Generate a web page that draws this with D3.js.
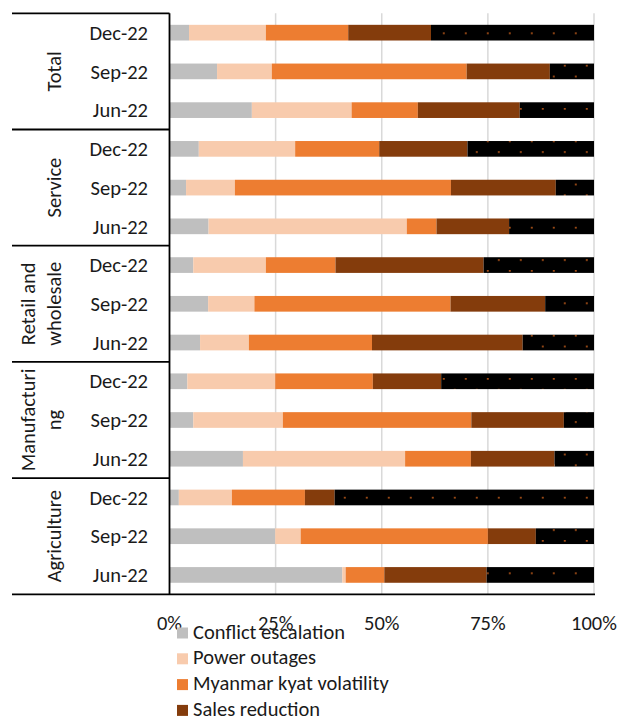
<!DOCTYPE html>
<html>
<head>
<meta charset="utf-8">
<script src="https://cdn.jsdelivr.net/npm/d3@7"></script>
<style>
  html, body { margin: 0; padding: 0; background: #fff; overflow: hidden; }
  svg { display: block; font-family: Carlito, Lato, "Liberation Sans", sans-serif; }
</style>
</head>
<body>
<svg id="chart" width="618" height="721"></svg>
<script>
// Sectors (top to bottom) and survey rounds within each sector
const groups = ["Total", "Service", "Retail and wholesale", "Manufacturing", "Agriculture"];
const groupLabelLines = [["Total"], ["Service"], ["Retail and", "wholesale"], ["Manufacturi", "ng"], ["Agriculture"]];
const periods = ["Dec-22", "Sep-22", "Jun-22"];

// Share of firms (%) per row, rows ordered group by group, Dec-22 / Sep-22 / Jun-22
const seriesNames = ["Conflict escalation", "Power outages", "Myanmar kyat volatility", "Sales reduction", "Other"];
const conflictEscalation = [4.6, 11.2, 19.4, 6.9, 3.9, 9.2, 5.6, 9.1, 7.2, 4.2, 5.6, 17.3, 2.2, 24.9, 40.7];
const powerOutages       = [18.1, 12.9, 23.5, 22.7, 11.5, 46.7, 17.1, 10.9, 11.5, 20.7, 21.1, 38.2, 12.5, 6.0, 0.8];
const kyatVolatility     = [19.4, 45.9, 15.6, 19.8, 50.9, 7.0, 16.4, 46.2, 29.0, 23.0, 44.4, 15.5, 17.2, 44.1, 9.1];
const salesReduction     = [19.5, 19.6, 24.0, 20.8, 24.7, 17.1, 34.9, 22.3, 35.5, 16.1, 21.8, 19.7, 7.0, 11.3, 24.1];
const other              = [38.4, 10.4, 17.5, 29.8, 9.0, 20.0, 26.0, 11.5, 16.8, 36.0, 7.1, 9.3, 61.1, 13.7, 25.3];
const xTicks = [0, 25, 50, 75, 100];

const seriesColors = ["#BFBFBF", "#F8CBAD", "#ED7D31", "#843C0C", "url(#dots)"];

const rows = [];
groups.forEach((g, gi) => periods.forEach((p, pi) => {
  const i = gi * 3 + pi;
  rows.push({
    key: g + "|" + p, group: g, period: p,
    values: [conflictEscalation[i], powerOutages[i], kyatVolatility[i], salesReduction[i], other[i]]
  });
}));

const table = rows.map(r => {
  const o = { key: r.key };
  seriesNames.forEach((s, k) => o[s] = r.values[k]);
  return o;
});

const margin = { top: 13.3, left: 169.5, right: 24, bottom: 126.7 };
const width = 618, height = 721;
const plotW = width - margin.left - margin.right;
const plotH = height - margin.top - margin.bottom;
const fontSize = 20.5;
const textColor = "#1a1a1a";

const svg = d3.select("#chart");

// Dotted fill for the last series
const defs = svg.append("defs");
const pat = defs.append("pattern")
  .attr("id", "dots")
  .attr("patternUnits", "userSpaceOnUse")
  .attr("x", 20.3).attr("y", 8.3)
  .attr("width", 22).attr("height", 21.6);
pat.append("rect").attr("width", 22).attr("height", 21.6).attr("fill", "#000");
pat.append("rect").attr("x", 0).attr("y", 0).attr("width", 2).attr("height", 1.7).attr("fill", "#A24D16");
pat.append("rect").attr("x", 11).attr("y", 10.8).attr("width", 2).attr("height", 1.7).attr("fill", "#A24D16");

const g = svg.append("g").attr("transform", `translate(${margin.left},${margin.top})`);

const x = d3.scaleLinear().domain([0, 100]).range([0, plotW]);
const y = d3.scaleBand().domain(rows.map(r => r.key)).range([0, plotH])
  .paddingInner(0.595).paddingOuter(0.2975);
const yGroup = d3.scaleBand().domain(groups).range([0, plotH]);

// Vertical gridlines
g.append("g").selectAll("line").data(xTicks.filter(t => t > 0)).join("line")
  .attr("x1", d => x(d)).attr("x2", d => x(d))
  .attr("y1", 0).attr("y2", plotH)
  .attr("stroke", "#D9D9D9").attr("stroke-width", 1.5);

// Stacked bars
const stack = d3.stack().keys(seriesNames);
const layers = stack(table);
g.append("g").selectAll("g").data(layers).join("g")
  .attr("fill", (d, i) => seriesColors[i])
  .selectAll("rect").data(d => d).join("rect")
  .attr("x", d => x(d[0]))
  .attr("width", d => x(d[1]) - x(d[0]))
  .attr("y", d => y(d.data.key))
  .attr("height", y.bandwidth());

// X axis tick labels
g.append("g").selectAll("text").data(xTicks).join("text")
  .attr("x", d => x(d))
  .attr("y", 630 - margin.top)
  .attr("text-anchor", "middle")
  .attr("font-size", fontSize)
  .attr("fill", textColor)
  .text(d => d + "%");

// Category axis: vertical axis line, group separators, labels
const axisColor = "#000";
const labelLeft = 12 - margin.left;
g.append("line")
  .attr("x1", 0).attr("x2", 0).attr("y1", 0).attr("y2", plotH)
  .attr("stroke", axisColor).attr("stroke-width", 1.8);
g.append("g").selectAll("line").data(groups).join("line")
  .attr("x1", labelLeft).attr("x2", 0)
  .attr("y1", d => yGroup(d)).attr("y2", d => yGroup(d))
  .attr("stroke", axisColor).attr("stroke-width", 1.8);
g.append("line")
  .attr("x1", labelLeft).attr("x2", plotW + 1)
  .attr("y1", plotH).attr("y2", plotH)
  .attr("stroke", axisColor).attr("stroke-width", 1.8);

// Period labels
g.append("g").selectAll("text").data(rows).join("text")
  .attr("x", 148 - margin.left)
  .attr("y", d => y(d.key) + y.bandwidth() / 2)
  .attr("dy", "0.35em")
  .attr("text-anchor", "end")
  .attr("font-size", fontSize)
  .attr("fill", textColor)
  .text(d => d.period);

// Group labels, rotated
groups.forEach((grp, gi) => {
  const lines = groupLabelLines[gi];
  const cy = yGroup(grp) + yGroup.bandwidth() / 2;
  lines.forEach((ln, li) => {
    const bx = (lines.length === 1 ? 61 : (li === 0 ? 35 : 61)) - margin.left;
    g.append("text")
      .attr("transform", `translate(${bx},${cy}) rotate(-90)`)
      .attr("text-anchor", "middle")
      .attr("font-size", fontSize)
      .attr("fill", textColor)
      .text(ln);
  });
});

// Legend
const legend = svg.append("g").attr("transform", "translate(177,638.5)");
const legendItems = legend.selectAll("g").data(seriesNames.slice(0, 4)).join("g")
  .attr("transform", (d, i) => `translate(0,${i * 25.8})`);
legendItems.append("rect")
  .attr("x", 0).attr("y", -11).attr("width", 11).attr("height", 11)
  .attr("fill", (d, i) => seriesColors[i]);
legendItems.append("text")
  .attr("x", 16).attr("y", 0)
  .attr("font-size", fontSize)
  .attr("fill", textColor)
  .text(d => d);
</script>
</body>
</html>
